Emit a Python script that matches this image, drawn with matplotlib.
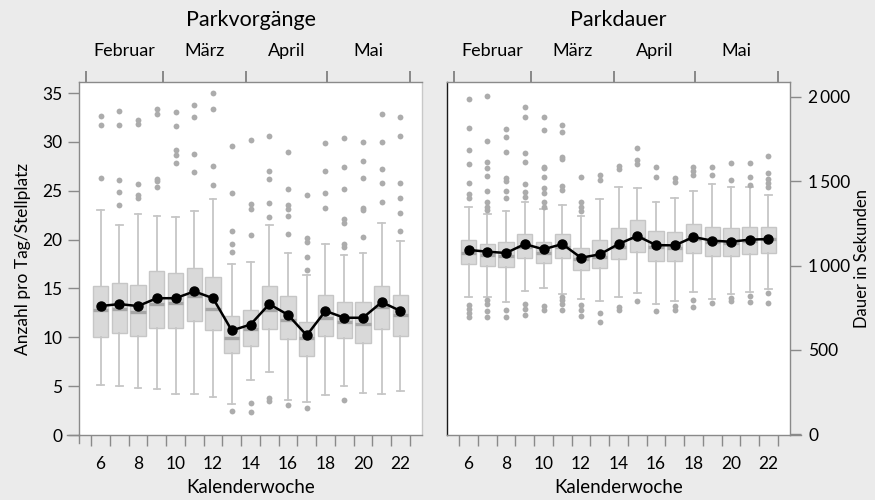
import numpy as np
import matplotlib
matplotlib.use("Agg")
import matplotlib.pyplot as plt

plt.rcParams["font.family"] = ["Lato", "DejaVu Sans"]
NARROW = ["Lato", "DejaVu Sans"]

weeks = list(range(6, 23))
months = ["Februar", "März", "April", "Mai"]
month_bounds = [5.2, 9.33, 13.78, 18.07, 22.5]

# Parkvorgaenge (Anzahl pro Tag/Stellplatz)
pv_whislo = [5.1, 5.0, 4.8, 4.7, 4.2, 4.2, 3.9, 3.2, 5.6, 6.4, 3.6, 3.4, 4.1, 5.0, 4.3, 4.2, 4.5]
pv_q1 = [10.0, 10.4, 10.1, 11.0, 11.0, 11.7, 10.7, 8.4, 9.1, 10.9, 9.8, 8.1, 10.1, 9.9, 9.4, 10.8, 10.1]
pv_med = [12.8, 12.9, 12.6, 13.4, 13.5, 14.2, 12.9, 9.9, 10.9, 12.8, 11.8, 9.9, 12.0, 11.6, 11.4, 13.1, 12.3]
pv_q3 = [15.2, 15.6, 15.4, 16.8, 16.6, 17.1, 16.2, 12.2, 12.8, 15.2, 14.2, 11.6, 14.3, 13.6, 13.6, 15.3, 14.3]
pv_whishi = [23.0, 21.5, 22.6, 22.4, 22.3, 22.9, 24.2, 17.5, 17.7, 21.5, 18.6, 16.4, 19.6, 18.4, 18.6, 21.7, 19.9]
pv_mean = [13.2, 13.4, 13.2, 14.0, 14.0, 14.7, 14.0, 10.7, 11.3, 13.4, 12.3, 10.2, 12.7, 12.0, 12.0, 13.6, 12.7]
pv_fliers = [
    [32.7, 31.7, 26.3],
    [33.2, 31.7, 26.1, 24.9, 23.5],
    [32.2, 31.8, 25.7, 24.6, 24.3],
    [33.4, 32.9, 26.2, 26.0, 25.4],
    [33.1, 31.6, 29.2, 28.7, 27.8],
    [33.8, 32.5, 28.8, 26.9],
    [35.0, 33.4, 27.5, 25.6],
    [29.6, 24.8, 20.9, 19.6, 18.7, 2.5],
    [30.2, 23.6, 23.1, 20.5, 3.3, 2.4],
    [30.6, 27.0, 26.2, 23.7, 22.3, 3.8, 3.5],
    [29.0, 25.2, 23.5, 23.1, 22.4, 20.6, 3.1],
    [24.6, 20.2, 19.8, 18.2, 16.9, 2.8],
    [29.9, 27.0, 24.8, 23.2],
    [30.4, 27.4, 25.2, 22.1, 21.7, 19.6, 19.2, 3.6],
    [30.0, 28.0, 26.3, 23.2, 23.0, 20.3],
    [32.9, 30.0, 27.2, 25.8, 23.8],
    [32.5, 30.6, 25.8, 24.3, 22.7, 20.9],
]

# Parkdauer (Sekunden)
pd_whislo = [812, 815, 782, 849, 865, 829, 800, 790, 812, 835, 770, 792, 845, 804, 829, 845, 859]
pd_q1 = [1009, 999, 993, 1043, 1013, 1043, 973, 983, 1037, 1082, 1028, 1028, 1076, 1056, 1056, 1068, 1072]
pd_med = [1072, 1062, 1058, 1110, 1072, 1110, 1038, 1050, 1110, 1160, 1108, 1105, 1155, 1140, 1135, 1148, 1155]
pd_q3 = [1151, 1127, 1137, 1187, 1141, 1187, 1102, 1151, 1222, 1270, 1206, 1200, 1246, 1230, 1224, 1230, 1230]
pd_whishi = [1345, 1303, 1323, 1378, 1333, 1357, 1293, 1394, 1463, 1461, 1376, 1398, 1441, 1485, 1467, 1467, 1420]
pd_mean = [1092, 1082, 1074, 1127, 1096, 1127, 1046, 1066, 1127, 1175, 1121, 1119, 1169, 1147, 1141, 1153, 1157]
pd_fliers = [
    [1985, 1816, 1682, 1601, 1491, 1422, 1398, 764, 740, 717, 697],
    [2006, 1739, 1613, 1576, 1530, 1441, 1378, 1348, 1329, 796, 772, 732, 697],
    [1807, 1759, 1674, 1520, 1501, 1443, 1400, 736, 693],
    [1941, 1878, 1665, 1615, 1483, 1437, 1408, 772, 740, 707],
    [1880, 1803, 1585, 1576, 1523, 1457, 1432, 1378, 1348, 760, 736],
    [1832, 1793, 1645, 1629, 1471, 1448, 812, 794, 772, 736],
    [1526, 1378, 1348, 1325, 768, 736, 701],
    [1536, 1506, 720, 663],
    [1589, 1571, 752, 736],
    [1694, 1625, 1601, 792],
    [1585, 1526, 732],
    [1516, 1496, 762, 736],
    [1581, 1562, 1536, 796, 756],
    [1585, 1536, 780],
    [1609, 1506, 808, 788],
    [1605, 1526, 1475, 819, 784],
    [1649, 1550, 1510, 1487, 1467, 835, 780],
]

left_yticks = [0, 5, 10, 15, 20, 25, 30, 35]
right_yticks = [0, 500, 1000, 1500, 2000]
right_yticklabels = ["0", "500", "1\u2009000", "1\u2009500", "2\u2009000"]

BG = "#ebebeb"
AXC = "#8a8a8a"


def stats_for(whislo, q1, med, q3, whishi, mean, fliers):
    out = []
    for i in range(len(whislo)):
        out.append(dict(whislo=whislo[i], q1=q1[i], med=med[i], q3=q3[i],
                        whishi=whishi[i], mean=mean[i], fliers=fliers[i]))
    return out


def draw_panel(ax, stats, mean):
    ax.bxp(stats, positions=weeks, widths=0.82, patch_artist=True,
           showfliers=True, showmeans=False, capwidths=0.35, manage_ticks=False,
           boxprops=dict(facecolor="#d9d9d9", edgecolor="#c6c6c6", lw=1.0),
           medianprops=dict(color="#a6a6a6", lw=2.4),
           whiskerprops=dict(color="#c6c6c6", lw=1.3),
           capprops=dict(color="#c6c6c6", lw=1.3),
           flierprops=dict(marker="o", markersize=4.2, markerfacecolor="#acacac",
                           markeredgecolor="none"))
    ax.plot(weeks, mean, "-", color="black", lw=1.8, marker="o", ms=6.5, zorder=5)
    ax.set_xlim(4.85, 23.15)
    ax.set_facecolor("white")

    ax.set_xticks(weeks[::2])
    ax.set_xticks(np.arange(5.5, 23, 1), minor=True)
    ax.tick_params(axis="x", which="major", length=0, pad=15, labelsize=12.5)
    ax.tick_params(axis="x", which="minor", length=8, width=1, color=AXC,
                   direction="out")
    ax.set_xlabel("Kalenderwoche", fontsize=13.5, labelpad=5)

    sec = ax.secondary_xaxis("top")
    sec.set_xticks(month_bounds, labels=[""] * len(month_bounds))
    mids = [(month_bounds[i] + month_bounds[i + 1]) / 2 for i in range(len(months))]
    sec.set_xticks(mids, labels=months, minor=True)
    sec.tick_params(which="major", length=8, width=1.2, color="#777777", direction="out")
    sec.tick_params(which="minor", length=0, pad=16.5, labelsize=13)
    for lab in sec.get_xticklabels(minor=True):
        lab.set_fontfamily(NARROW)
    sec.spines["top"].set_visible(False)

    for sp in ax.spines.values():
        sp.set_color(AXC)
        sp.set_linewidth(1.0)


fig = plt.figure(figsize=(8.75, 5), dpi=100, facecolor=BG)
axL = fig.add_axes([79 / 875, 1 - 435 / 500, 343 / 875, 353 / 500])
axR = fig.add_axes([447 / 875, 1 - 435 / 500, 343 / 875, 353 / 500])

# left panel
draw_panel(axL, stats_for(pv_whislo, pv_q1, pv_med, pv_q3, pv_whishi, pv_mean, pv_fliers), pv_mean)
axL.set_ylim(0, 36.13)
axL.set_yticks(left_yticks)
axL.tick_params(axis="y", length=8, width=1, color=AXC, pad=4, labelsize=12.5)
axL.set_ylabel("Anzahl pro Tag/Stellplatz", fontsize=12.5, labelpad=8)
axL.spines["right"].set_color("#c8c8c8")
axL.plot([-12 / 343, 0], [0, 0], color=AXC, lw=1.0, transform=axL.transAxes, clip_on=False)
axL.plot([0, 0], [-8 / 353, 0], color=AXC, lw=1.0, transform=axL.transAxes, clip_on=False)

# right panel
draw_panel(axR, stats_for(pd_whislo, pd_q1, pd_med, pd_q3, pd_whishi, pd_mean, pd_fliers), pd_mean)
axR.set_ylim(-4, 2087)
axR.yaxis.tick_right()
axR.yaxis.set_label_position("right")
axR.set_yticks(right_yticks, labels=right_yticklabels)
axR.tick_params(axis="y", length=8, width=1, color=AXC, pad=5, labelsize=12.5)
axR.set_ylabel("Dauer in Sekunden", fontsize=12, labelpad=3, rotation=90)
axR.spines["left"].set_color("#1a1a1a")
axR.plot([1, 1 + 11 / 343], [0, 0], color=AXC, lw=1.0, transform=axR.transAxes, clip_on=False)

fig.text((79 + 343 / 2) / 875, 1 - 20 / 500, "Parkvorgänge", ha="center", va="center",
         fontsize=15.5, family=NARROW)
fig.text((447 + 343 / 2) / 875, 1 - 20 / 500, "Parkdauer", ha="center", va="center",
         fontsize=15.5, family=NARROW)

fig.savefig("out.png", dpi=100, facecolor=BG)
